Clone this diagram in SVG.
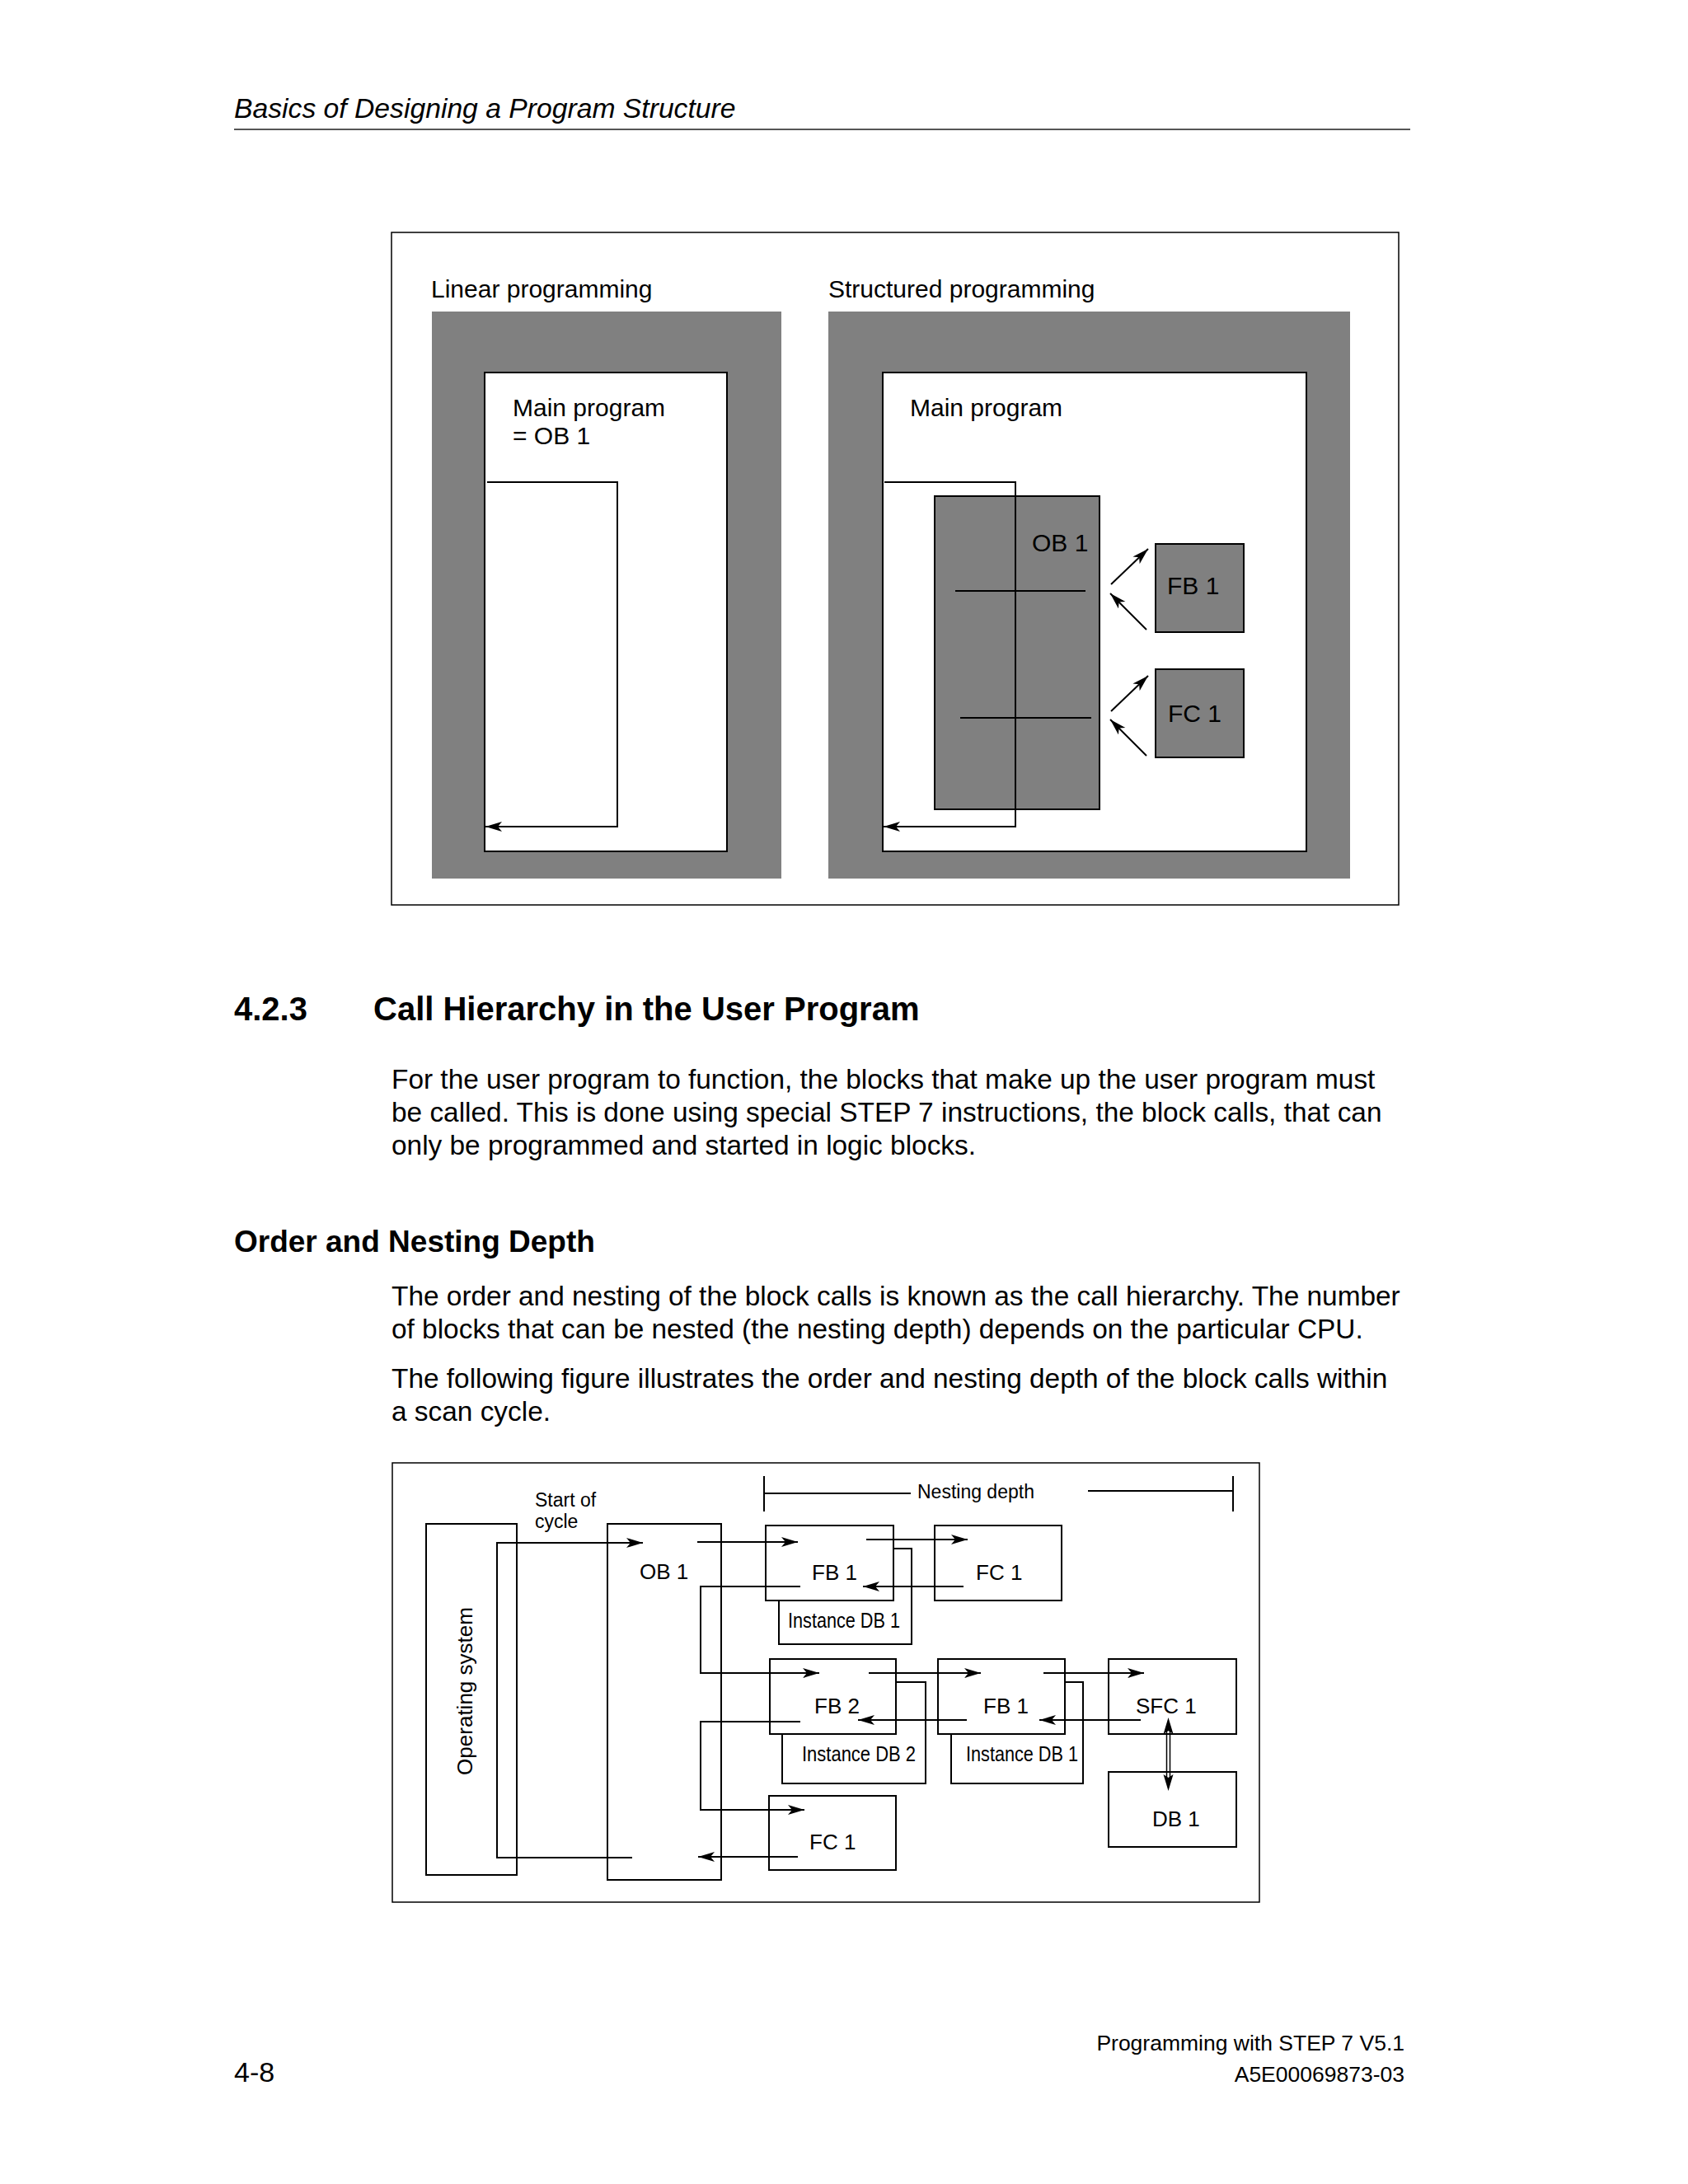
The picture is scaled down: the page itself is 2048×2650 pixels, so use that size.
<svg xmlns="http://www.w3.org/2000/svg" width="2048" height="2650" viewBox="0 0 2048 2650">
<defs>
<style>
text{font-family:"Liberation Sans",Arial,sans-serif;fill:#000}
.hdr{font-size:33.7px;font-style:italic}
.body{font-size:33.4px}
.h2{font-size:40px;font-weight:bold}
.h3{font-size:37px;font-weight:bold}
.foot{font-size:26.5px}
.big{font-size:30px}
.lbl{font-size:26px}
.sm{font-size:23px}
.idb{font-size:26px}
.frame{fill:none;stroke:#000;stroke-width:1.5}
.gray{fill:#808080}
.wbox{fill:#fff;stroke:#000;stroke-width:2}
.gbox{fill:#808080;stroke:#000;stroke-width:2}
.box{fill:#fff;stroke:#000;stroke-width:2}
.ln{fill:none;stroke:#000;stroke-width:2}
.arr{fill:none;stroke:#000;stroke-width:2;marker-end:url(#ah)}
</style>
<marker id="ah" markerUnits="userSpaceOnUse" markerWidth="22" markerHeight="14" refX="20" refY="6" orient="auto"><path d="M0,0 L20,6 L0,12 L5,6 z" fill="#000"/></marker>
</defs>
<rect width="2048" height="2650" fill="#fff"/>

<!-- page header -->
<text class="hdr" x="284" y="143">Basics of Designing a Program Structure</text>
<line x1="284" y1="157" x2="1711" y2="157" stroke="#555" stroke-width="2"/>

<!-- top figure -->
<g id="fig1">
<rect class="frame" x="475" y="282" width="1222" height="816"/>
<text class="big" x="523" y="361">Linear programming</text>
<text class="big" x="1005" y="361">Structured programming</text>
<g id="linear">
<rect class="gray" x="524" y="378" width="424" height="688"/>
<rect class="wbox" x="588" y="452" width="294" height="581"/>
<text class="big" x="622" y="505">Main program</text>
<text class="big" x="622" y="539">= OB 1</text>
</g>
<g id="structured">
<rect class="gray" x="1005" y="378" width="633" height="688"/>
<rect class="wbox" x="1071" y="452" width="514" height="581"/>
<text class="big" x="1104" y="505">Main program</text>
</g>
<g id="ob1-top">
<rect class="gbox" x="1134" y="602" width="200" height="380"/>
<text class="big" x="1252" y="669">OB 1</text>
<line class="ln" x1="1159" y1="717" x2="1317" y2="717" stroke-width="1.5"/>
<line class="ln" x1="1165" y1="871" x2="1324" y2="871" stroke-width="1.5"/>
</g>
<g id="fb1-top">
<rect class="gbox" x="1402" y="660" width="107" height="107"/>
<text class="big" x="1416" y="721">FB 1</text>
</g>
<g id="fc1-top">
<rect class="gbox" x="1402" y="812" width="107" height="107"/>
<text class="big" x="1417" y="876">FC 1</text>
</g>
<g id="connectors-top">
<path class="arr" d="M591 585 H749 V1003 H589"/>
<path class="arr" d="M1073 585 H1232 V1003 H1072"/>
<path class="arr" d="M1348 709 L1393 666"/>
<path class="arr" d="M1391 764 L1347 720"/>
<path class="arr" d="M1348 863 L1393 820"/>
<path class="arr" d="M1391 917 L1347 873"/>
</g>
</g>

<!-- section text -->
<text class="h2" x="284" y="1238">4.2.3</text>
<text class="h2" x="453" y="1238">Call Hierarchy in the User Program</text>
<text class="body" x="475" y="1321">For the user program to function, the blocks that make up the user program must</text>
<text class="body" x="475" y="1361">be called. This is done using special STEP 7 instructions, the block calls, that can</text>
<text class="body" x="475" y="1401">only be programmed and started in logic blocks.</text>
<text class="h3" x="284" y="1519">Order and Nesting Depth</text>
<text class="body" x="475" y="1584">The order and nesting of the block calls is known as the call hierarchy. The number</text>
<text class="body" x="475" y="1624">of blocks that can be nested (the nesting depth) depends on the particular CPU.</text>
<text class="body" x="475" y="1684">The following figure illustrates the order and nesting depth of the block calls within</text>
<text class="body" x="475" y="1724">a scan cycle.</text>

<!-- bottom figure -->
<g id="fig2">
<rect class="frame" x="476" y="1775" width="1052" height="533"/>
<g id="os">
<rect class="box" x="517" y="1849" width="110" height="426"/>
<text class="lbl" transform="translate(573,2052) rotate(-90)" text-anchor="middle">Operating system</text>
</g>
<text class="sm" x="649" y="1828">Start of</text>
<text class="sm" x="649" y="1854">cycle</text>
<g id="ob1">
<rect class="box" x="737" y="1849" width="138" height="432"/>
<text class="lbl" x="776" y="1916">OB 1</text>
</g>
<g id="idb1a">
<rect class="box" x="945" y="1879" width="161" height="116"/>
<text class="idb" x="956" y="1975" textLength="136" lengthAdjust="spacingAndGlyphs">Instance DB 1</text>
</g>
<g id="fb1a">
<rect class="box" x="929" y="1851" width="155" height="91"/>
<text class="lbl" x="985" y="1917">FB 1</text>
</g>
<g id="fc1a">
<rect class="box" x="1134" y="1851" width="154" height="91"/>
<text class="lbl" x="1184" y="1917">FC 1</text>
</g>
<g id="idb2">
<rect class="box" x="949" y="2041" width="174" height="123"/>
<text class="idb" x="973" y="2137" textLength="138" lengthAdjust="spacingAndGlyphs">Instance DB 2</text>
</g>
<g id="fb2">
<rect class="box" x="934" y="2013" width="153" height="91"/>
<text class="lbl" x="988" y="2079">FB 2</text>
</g>
<g id="idb1b">
<rect class="box" x="1154" y="2041" width="160" height="123"/>
<text class="idb" x="1172" y="2137" textLength="136" lengthAdjust="spacingAndGlyphs">Instance DB 1</text>
</g>
<g id="fb1b">
<rect class="box" x="1138" y="2013" width="154" height="91"/>
<text class="lbl" x="1193" y="2079">FB 1</text>
</g>
<g id="sfc1">
<rect class="box" x="1345" y="2013" width="155" height="91"/>
<text class="lbl" x="1378" y="2079">SFC 1</text>
</g>
<g id="db1">
<rect class="box" x="1345" y="2150" width="155" height="91"/>
<text class="lbl" x="1398" y="2216">DB 1</text>
</g>
<g id="fc1b">
<rect class="box" x="933" y="2179" width="154" height="90"/>
<text class="lbl" x="982" y="2244">FC 1</text>
</g>
<g id="nesting">
<path class="ln" d="M927 1791 V1834 M927 1812 H1105 M1320 1809 H1496 M1496 1791 V1834"/>
<text class="sm" x="1113" y="1818">Nesting depth</text>
</g>
<g id="connectors">
<path class="arr" d="M767 2254 H603 V1872 H780"/>
<path class="arr" d="M846 1871 H968"/>
<path class="arr" d="M1051 1868 H1174"/>
<path class="arr" d="M1169 1925 H1047"/>
<path class="arr" d="M971 1925 H850 V2030 H994"/>
<path class="arr" d="M1054 2030 H1190"/>
<path class="arr" d="M1266 2030 H1388"/>
<path class="arr" d="M1384 2087 H1261"/>
<path class="arr" d="M1173 2087 H1041"/>
<path class="arr" d="M971 2089 H850 V2196 H976"/>
<path class="arr" d="M968 2253 H847"/>
<g id="sfc-db-link">
<path fill="none" stroke="#000" stroke-width="1.5" d="M1415.5 2098 V2160 M1419.5 2098 V2160"/>
<path fill="#000" d="M1417.5 2084 L1411.5 2104 L1417.5 2100 L1423.5 2104 z M1417.5 2173 L1411.5 2153 L1417.5 2157 L1423.5 2153 z"/>
</g>
</g>
</g>

<!-- footer -->
<text class="foot" x="1704" y="2488" text-anchor="end">Programming with STEP 7 V5.1</text>
<text class="foot" x="1704" y="2526" text-anchor="end">A5E00069873-03</text>
<text style="font-size:34px" x="284" y="2526">4-8</text>
</svg>
